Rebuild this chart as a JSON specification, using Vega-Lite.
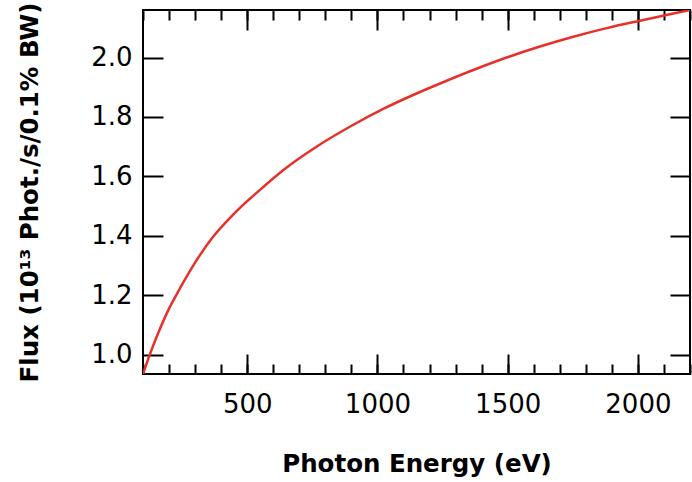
{
  "$schema": "https://vega.github.io/schema/vega-lite/v6.json",
  "width": 547,
  "height": 364,
  "autosize": "none",
  "padding": {"left": 143, "top": 10, "right": 2, "bottom": 108},
  "background": "white",
  "config": {
    "view": {"stroke": "black", "strokeWidth": 2},
    "axis": {
      "domain": false,
      "grid": false,
      "tickColor": "black",
      "tickWidth": 2,
      "labelFont": "DejaVu Sans",
      "labelFontSize": 26,
      "labelColor": "black",
      "titleFont": "DejaVu Sans",
      "titleFontSize": 24.5,
      "titleFontWeight": "bold",
      "titleColor": "black"
    }
  },
  "data": {
    "values": [
      {"energy": 100, "flux": 0.935},
      {"energy": 126, "flux": 1.0},
      {"energy": 160, "flux": 1.076},
      {"energy": 200, "flux": 1.155},
      {"energy": 226, "flux": 1.198},
      {"energy": 300, "flux": 1.31},
      {"energy": 363, "flux": 1.39},
      {"energy": 450, "flux": 1.475},
      {"energy": 548, "flux": 1.554},
      {"energy": 638, "flux": 1.621},
      {"energy": 766, "flux": 1.7},
      {"energy": 894, "flux": 1.767},
      {"energy": 1022, "flux": 1.827},
      {"energy": 1150, "flux": 1.879},
      {"energy": 1266, "flux": 1.922},
      {"energy": 1368, "flux": 1.958},
      {"energy": 1496, "flux": 2.0},
      {"energy": 1624, "flux": 2.037},
      {"energy": 1752, "flux": 2.07},
      {"energy": 1880, "flux": 2.099},
      {"energy": 2008, "flux": 2.124},
      {"energy": 2136, "flux": 2.148},
      {"energy": 2200, "flux": 2.16}
    ]
  },
  "resolve": {"axis": {"x": "independent", "y": "independent"}},
  "layer": [
    {
      "mark": {"type": "line", "color": "#e8302a", "strokeWidth": 2.5, "interpolate": "monotone", "clip": true},
      "encoding": {
        "x": {
          "field": "energy", "type": "quantitative",
          "scale": {"domain": [100, 2200], "nice": false, "zero": false},
          "axis": {"orient": "bottom", "values": [500, 1000, 1500, 2000], "format": "d", "tickSize": -20, "labelPadding": 37, "title": "Photon Energy (eV)", "titlePadding": 35}
        },
        "y": {
          "field": "flux", "type": "quantitative",
          "scale": {"domain": [0.935, 2.16], "nice": false, "zero": false},
          "axis": {"orient": "left", "values": [1.0, 1.2, 1.4, 1.6, 1.8, 2.0], "format": ".1f", "tickSize": -20, "labelPadding": 31, "title": "Flux (10¹³  Phot./s/0.1% BW)", "titlePadding": 48}
        }
      }
    },
    {
      "mark": {"type": "line", "opacity": 0},
      "encoding": {
        "x": {
          "field": "energy", "type": "quantitative",
          "scale": {"domain": [100, 2200], "nice": false, "zero": false},
          "axis": {"orient": "bottom", "values": [100, 200, 300, 400, 500, 600, 700, 800, 900, 1000, 1100, 1200, 1300, 1400, 1500, 1600, 1700, 1800, 1900, 2000, 2100, 2200], "tickSize": -10, "labels": false, "title": null}
        },
        "y": {
          "field": "flux", "type": "quantitative",
          "scale": {"domain": [0.935, 2.16], "nice": false, "zero": false},
          "axis": {"orient": "right", "values": [1.0, 1.2, 1.4, 1.6, 1.8, 2.0], "tickSize": -20, "labels": false, "title": null}
        }
      }
    },
    {
      "mark": {"type": "line", "opacity": 0},
      "encoding": {
        "x": {
          "field": "energy", "type": "quantitative",
          "scale": {"domain": [100, 2200], "nice": false, "zero": false},
          "axis": {"orient": "top", "values": [100, 200, 300, 400, 500, 600, 700, 800, 900, 1000, 1100, 1200, 1300, 1400, 1500, 1600, 1700, 1800, 1900, 2000, 2100, 2200], "tickSize": -10, "labels": false, "title": null}
        },
        "y": {
          "field": "flux", "type": "quantitative",
          "scale": {"domain": [0.935, 2.16], "nice": false, "zero": false},
          "axis": null
        }
      }
    },
    {
      "mark": {"type": "line", "opacity": 0},
      "encoding": {
        "x": {
          "field": "energy", "type": "quantitative",
          "scale": {"domain": [100, 2200], "nice": false, "zero": false},
          "axis": {"orient": "top", "values": [500, 1000, 1500, 2000], "tickSize": -20, "labels": false, "title": null}
        },
        "y": {
          "field": "flux", "type": "quantitative",
          "scale": {"domain": [0.935, 2.16], "nice": false, "zero": false},
          "axis": null
        }
      }
    }
  ]
}
